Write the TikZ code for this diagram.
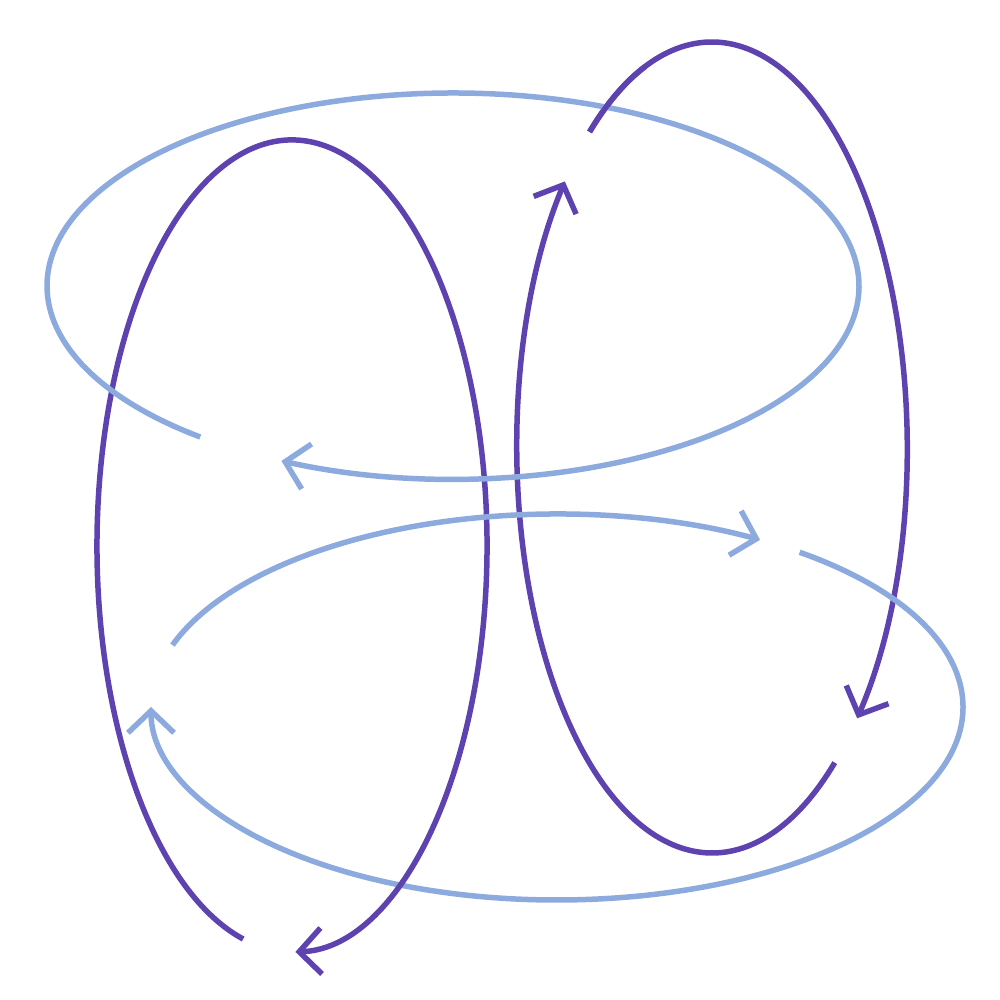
\documentclass[tikz,border=0pt]{standalone}
\usetikzlibrary{arrows.meta,calc}
\definecolor{lblue}{HTML}{8DAADF}
\definecolor{dpurple}{HTML}{5E43B0}
\tikzset{
  loopline/.style={line width=0.055cm, line cap=butt, -{Straight Barb[length=0.22cm,width=0.46cm,line cap=butt]}},
  plainline/.style={line width=0.055cm, line cap=butt},
  bluearc/.style={loopline, draw=lblue},
  purplearc/.style={loopline, draw=dpurple},
}
\begin{document}
\begin{tikzpicture}
\useasboundingbox (0,0) rectangle (10,10);
% right purple ellipse, centre (7.12,5.525)
\draw[purplearc] ($(7.12,5.525)+(128.9:1.95 and 4.055)$) coordinate (rpa) arc[start angle=128.9, end angle=-41.9, x radius=1.95, y radius=4.055];
\draw[purplearc] ($(7.12,5.525)+(-51:1.95 and 4.055)$) coordinate (rpb) arc[start angle=-51, end angle=-221, x radius=1.95, y radius=4.055];
% bottom blue ellipse, lower arc, centre (5.57,2.93)
\draw[bluearc] ($(5.57,2.93)+(53.3:4.06 and 1.93)$) coordinate (bbb) arc[start angle=53.3, end angle=-180, x radius=4.06, y radius=1.93];
% left purple ellipse, centre (2.92,4.54)
\draw[purplearc] ($(2.92,4.54)+(255.5:1.95 and 4.06)$) coordinate (lp) arc[start angle=255.5, end angle=-89, x radius=1.95, y radius=4.06];
% top blue ellipse, centre (4.53,7.14)
\draw[bluearc] ($(4.53,7.14)+(231.5:4.06 and 1.93)$) coordinate (tb) arc[start angle=231.5, end angle=-115, x radius=4.06, y radius=1.93];
% bottom blue ellipse, upper arc
\draw[bluearc] ($(5.57,2.93)+(161.3:4.06 and 1.93)$) coordinate (bba) arc[start angle=161.3, end angle=60, x radius=4.06, y radius=1.93];
% right purple passes over the top blue near its start
\draw[plainline, draw=dpurple] (rpa) arc[start angle=128.9, end angle=110, x radius=1.95, y radius=4.055];
\end{tikzpicture}
\end{document}
